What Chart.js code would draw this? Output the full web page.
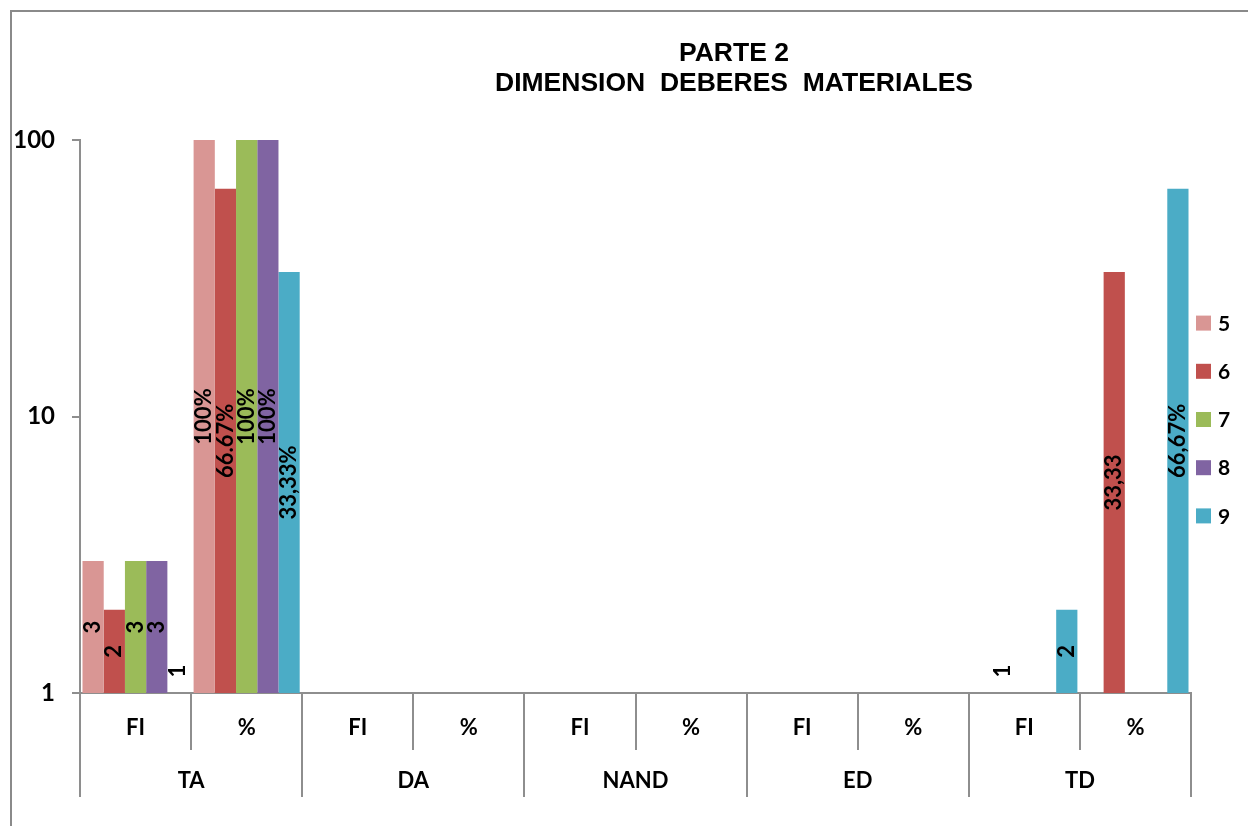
<!DOCTYPE html>
<html>
<head>
<meta charset="utf-8">
<title>PARTE 2 - DIMENSION DEBERES MATERIALES</title>
<script src="https://cdn.jsdelivr.net/npm/chart.js@4.4.1/dist/chart.umd.min.js"></script>
<style>
  html, body { margin: 0; padding: 0; background: #fff; overflow: hidden; }
  #wrap { position: relative; width: 1248px; height: 826px; }
  canvas { position: absolute; left: 0; top: 0; }
  #frame { position: absolute; left: 10px; top: 10px; width: 1400px; height: 1000px;
           border-left: 2px solid #8a8a8a; border-top: 2px solid #8a8a8a; pointer-events: none; }
</style>
</head>
<body>
<div id="wrap">
  <canvas id="chart" width="1248" height="826"></canvas>
  <div id="frame"></div>
</div>
<script>
// Category rows: inner (FI / %) and outer groups
const categories = ['FI', '%', 'FI', '%', 'FI', '%', 'FI', '%', 'FI', '%'];
const groups = ['TA', 'DA', 'NAND', 'ED', 'TD'];

// Series names
const seriesNames = ['5', '6', '7', '8', '9'];

// Values per series (null = no bar)
const values5 = [3, 100, null, null, null, null, null, null, null, null];
const values6 = [2, 66.67, null, null, null, null, null, null, 1, 33.33];
const values7 = [3, 100, null, null, null, null, null, null, null, null];
const values8 = [3, 100, null, null, null, null, null, null, null, null];
const values9 = [1, 33.33, null, null, null, null, null, null, 2, 66.67];

// Data label texts as printed on the bars
const labels5 = ['3', '100%', null, null, null, null, null, null, null, null];
const labels6 = ['2', '66.67%', null, null, null, null, null, null, '1', '33,33'];
const labels7 = ['3', '100%', null, null, null, null, null, null, null, null];
const labels8 = ['3', '100%', null, null, null, null, null, null, null, null];
const labels9 = ['1', '33,33%', null, null, null, null, null, null, '2', '66,67%'];

// Y axis tick values (log scale)
const yTicks = [1, 10, 100];

const titleLines = ['PARTE 2', 'DIMENSION  DEBERES  MATERIALES'];

const colors = ['#D99694', '#C0504D', '#9BBB59', '#8064A2', '#4BACC6'];
const axisGray = '#8e8e8e';
const labelFont = 'Lato, "Open Sans", sans-serif';

const allValues = [values5, values6, values7, values8, values9];
const allLabels = [labels5, labels6, labels7, labels8, labels9];

const datasets = seriesNames.map((name, i) => ({
  label: name,
  data: allValues[i],
  valueLabels: allLabels[i],
  backgroundColor: colors[i],
  borderWidth: 0,
  categoryPercentage: 0.955,
  barPercentage: 1.0
}));

// Rotated value labels in the middle of each bar (just above the axis for empty bars)
const barLabels = {
  id: 'barLabels',
  afterDatasetsDraw(chart) {
    const ctx = chart.ctx;
    chart.data.datasets.forEach((ds, i) => {
      const meta = chart.getDatasetMeta(i);
      meta.data.forEach((bar, j) => {
        const txt = ds.valueLabels[j];
        if (!txt) return;
        const p = bar.getProps(['x', 'y', 'base'], true);
        const h = p.base - p.y;
        const cy = h > 2 ? (p.y + p.base) / 2 : p.base - 22;
        ctx.save();
        ctx.translate(p.x, cy);
        ctx.rotate(-Math.PI / 2);
        ctx.font = 'bold 22px ' + labelFont;
        ctx.fillStyle = '#000';
        ctx.textAlign = 'center';
        ctx.textBaseline = 'middle';
        ctx.fillText(txt, 0, 0);
        ctx.restore();
      });
    });
  }
};

// Two-line heading over the plot
const heading = {
  id: 'heading',
  afterDraw(chart) {
    const ctx = chart.ctx;
    ctx.save();
    ctx.font = 'bold 26.5px "Liberation Sans", Arial, sans-serif';
    ctx.fillStyle = '#000';
    ctx.textAlign = 'center';
    ctx.textBaseline = 'middle';
    ctx.fillText(titleLines[0], 734, 54);
    ctx.fillText(titleLines[1], 734, 84);
    ctx.restore();
  }
};

// Vertical legend with square swatches to the right of the plot
const sideLegend = {
  id: 'sideLegend',
  afterDraw(chart) {
    const ctx = chart.ctx;
    const area = chart.chartArea;
    const step = 48.2;
    const n = chart.data.datasets.length;
    const cy = (area.top + area.bottom) / 2 + 3;
    const x = area.right + 5;
    ctx.save();
    ctx.font = 'bold 21px ' + labelFont;
    ctx.textAlign = 'left';
    ctx.textBaseline = 'middle';
    chart.data.datasets.forEach((ds, i) => {
      const y = cy + (i - (n - 1) / 2) * step;
      ctx.fillStyle = ds.backgroundColor;
      ctx.fillRect(x, y - 7.5, 15, 15);
      ctx.fillStyle = '#000';
      ctx.fillText(ds.label, x + 22, y + 1);
    });
    ctx.restore();
  }
};

new Chart(document.getElementById('chart'), {
  type: 'bar',
  data: { labels: categories, datasets },
  plugins: [barLabels, heading, sideLegend],
  options: {
    responsive: false,
    animation: false,
    layout: { padding: { left: 0, top: 140, right: 57, bottom: 29 } },
    plugins: {
      legend: { display: false },
      title: { display: false },
      tooltip: { enabled: false }
    },
    scales: {
      y: {
        type: 'logarithmic',
        min: 1,
        max: 100,
        afterBuildTicks(scale) { scale.ticks = yTicks.map(v => ({ value: v })); },
        afterFit(scale) { scale.width = 80; },
        grid: { drawOnChartArea: false, tickLength: 8, color: axisGray, lineWidth: 2 },
        border: { color: axisGray, width: 2 },
        ticks: {
          callback: v => String(v),
          color: '#000',
          padding: 17,
          font: { family: labelFont, weight: 'bold', size: 24 }
        }
      },
      x: {
        type: 'category',
        position: 'bottom',
        weight: 1,
        offset: true,
        afterFit(scale) { scale.height = 57; },
        grid: { offset: true, drawOnChartArea: false, tickLength: 57, color: axisGray, lineWidth: 2 },
        border: { display: true, color: axisGray, width: 2 },
        ticks: {
          autoSkip: false, maxRotation: 0, color: '#000', padding: -35,
          font: { family: labelFont, weight: 'bold', size: 22 }
        }
      },
      x2: {
        type: 'category',
        labels: groups,
        position: 'bottom',
        weight: 2,
        offset: true,
        afterFit(scale) { scale.height = 47; },
        grid: { offset: true, drawOnChartArea: false, tickLength: 47, color: axisGray, lineWidth: 2 },
        border: { display: false },
        ticks: {
          autoSkip: false, maxRotation: 0, color: '#000', padding: -29,
          font: { family: labelFont, weight: 'bold', size: 22 }
        }
      }
    }
  }
});
</script>
</body>
</html>
